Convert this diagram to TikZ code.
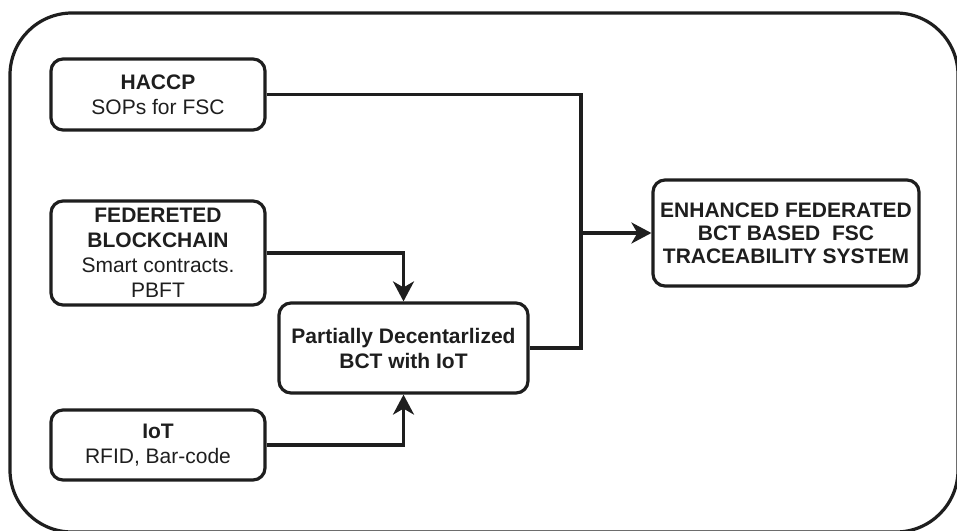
\documentclass[tikz,border=0pt]{standalone}
\usepackage{fontspec}
\setmainfont{Liberation Sans}
\usetikzlibrary{arrows.meta}
\definecolor{ink}{HTML}{1E1E1E}
\tikzset{
  box/.style={draw=ink, line width=3.2pt, rounded corners=12pt, inner sep=0pt, align=center,
    text=ink, font=\fontsize{21}{25}\selectfont},
  conn/.style={draw=ink, line width=3.2pt},
  arr/.style={conn, -{Stealth[length=20pt,width=21pt,inset=6pt]}},
}
\begin{document}
\begin{tikzpicture}[x=1pt,y=-1pt]
\useasboundingbox (0,0) rectangle (957,530);
\clip (0,0) rectangle (957,530);
\draw[ink, line width=3.2pt, rounded corners=62pt] (10,13) rectangle (958,532);

\node[box, minimum width=214pt, minimum height=71pt] (haccp) at (158,94.5)
  {\textbf{HACCP}\\SOPs for FSC};
\node[box, minimum width=214pt, minimum height=104pt] (fed) at (158,253)
  {\textbf{FEDERETED}\\\textbf{BLOCKCHAIN}\\Smart contracts.\\PBFT};
\node[box, minimum width=214pt, minimum height=70pt] (iot) at (158,445)
  {\textbf{IoT}\\RFID, Bar-code};
\node[box, minimum width=249pt, minimum height=90pt] (pdb) at (403.5,348)
  {\textbf{Partially Decentarlized}\\\textbf{BCT with IoT}};
\node[box, minimum width=266pt, minimum height=106pt, font=\fontsize{21}{23}\selectfont] (enh) at (786,233)
  {\textbf{ENHANCED FEDERATED}\\\textbf{BCT BASED\ \ FSC}\\\textbf{TRACEABILITY SYSTEM}};

\coordinate (jn) at (581,233);
\draw[conn] (haccp.east) -| (jn) |- (pdb.east);
\draw[arr] (jn) -- (enh.west);
\draw[arr] (fed.east) -| (pdb.north);
\draw[arr] (iot.east) -| (pdb.south);
\end{tikzpicture}
\end{document}
